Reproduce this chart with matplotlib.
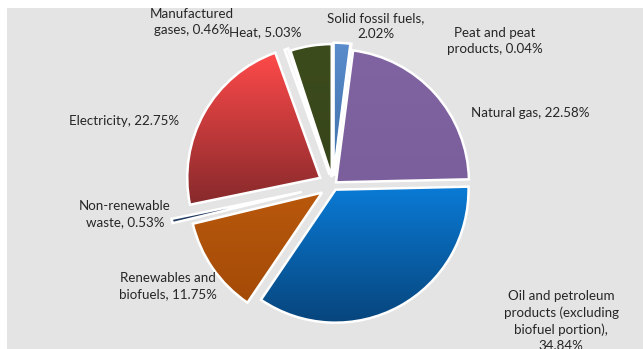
import matplotlib
matplotlib.use("Agg")
import matplotlib.pyplot as plt
import numpy as np
from matplotlib.colors import LinearSegmentedColormap
from matplotlib.patches import Rectangle

categories = ["Solid fossil fuels", "Peat and peat products", "Natural gas",
              "Oil and petroleum products (excluding biofuel portion)",
              "Renewables and biofuels", "Non-renewable waste", "Electricity",
              "Manufactured gases", "Heat"]
shares = [2.02, 0.04, 22.58, 34.84, 11.75, 0.53, 22.75, 0.46, 5.03]
label_texts = ["Solid fossil fuels,\n2.02%", "Peat and peat\nproducts, 0.04%",
               "Natural gas, 22.58%",
               "Oil and petroleum\nproducts (excluding\nbiofuel portion),\n34.84%",
               "Renewables and\nbiofuels, 11.75%", "Non-renewable\nwaste, 0.53%",
               "Electricity, 22.75%", "Manufactured\ngases, 0.46%", "Heat, 5.03%"]

# styling
top_colors = ["#5a8ccc", "#e0403d", "#8064a2", "#0a7bd6", "#b8580c", "#1f3a60",
              "#ff4a4a", "#f2f2f2", "#3d4c1c"]
bot_colors = ["#3f6fa8", "#e0403d", "#7a5f9c", "#07457c", "#a44b08", "#1f3a60",
              "#86292b", "#f2f2f2", "#36441a"]
explode = [0.07, 0.07, 0.03, 0.04, 0.10, 0.24, 0.11, 0.08, 0.06]
# label centres in pixel coordinates (x from left, y from top)
label_px = [(376, 26), (495, 41), (530, 113), (561, 321), (168, 286),
            (125, 214), (124, 121), (192, 22), (265, 32)]

W, H = 643, 349
fig = plt.figure(figsize=(W / 100, H / 100), dpi=100)
fig.patch.set_facecolor("white")
fig.add_artist(Rectangle((7 / W, 0), 1 - 7 / W, 1 - 8 / H, transform=fig.transFigure,
                         facecolor="#e4e4e4", edgecolor="none", zorder=0))

R = 133.0
cx, cy = 333.0, 185.0
ax = fig.add_axes([0, 0, 1, 1])
ax.set_xlim(-cx / R, (W - cx) / R)
ax.set_ylim(-(H - cy) / R, cy / R)
ax.set_aspect("auto")
ax.axis("off")
ax.patch.set_alpha(0)

wedges, _ = ax.pie(shares, explode=explode, startangle=90, counterclock=False,
                   radius=1.0, wedgeprops=dict(edgecolor="white", linewidth=1.8))

for w, c0, c1 in zip(wedges, top_colors, bot_colors):
    ext = w.get_path().get_extents()
    cmap = LinearSegmentedColormap.from_list("g", [c1, c0])
    grad = np.linspace(0, 1, 256).reshape(-1, 1)
    im = ax.imshow(grad, cmap=cmap, origin="lower", aspect="auto",
                   extent=[ext.x0, ext.x1, ext.y0, ext.y1], zorder=1,
                   interpolation="bilinear")
    im.set_clip_path(w)
    w.set_facecolor("none")
    w.set_zorder(2)

ax.set_xlim(-cx / R, (W - cx) / R)
ax.set_ylim(-(H - cy) / R, cy / R)

plt.rcParams["font.family"] = ["Lato", "DejaVu Sans"]
for txt, (px, py) in zip(label_texts, label_px):
    fig.text(px / W, 1 - py / H, txt, ha="center", va="center", fontsize=9.6,
             color="#262626", linespacing=1.42, family=["Lato", "DejaVu Sans"])

fig.savefig("out.png", dpi=100)
